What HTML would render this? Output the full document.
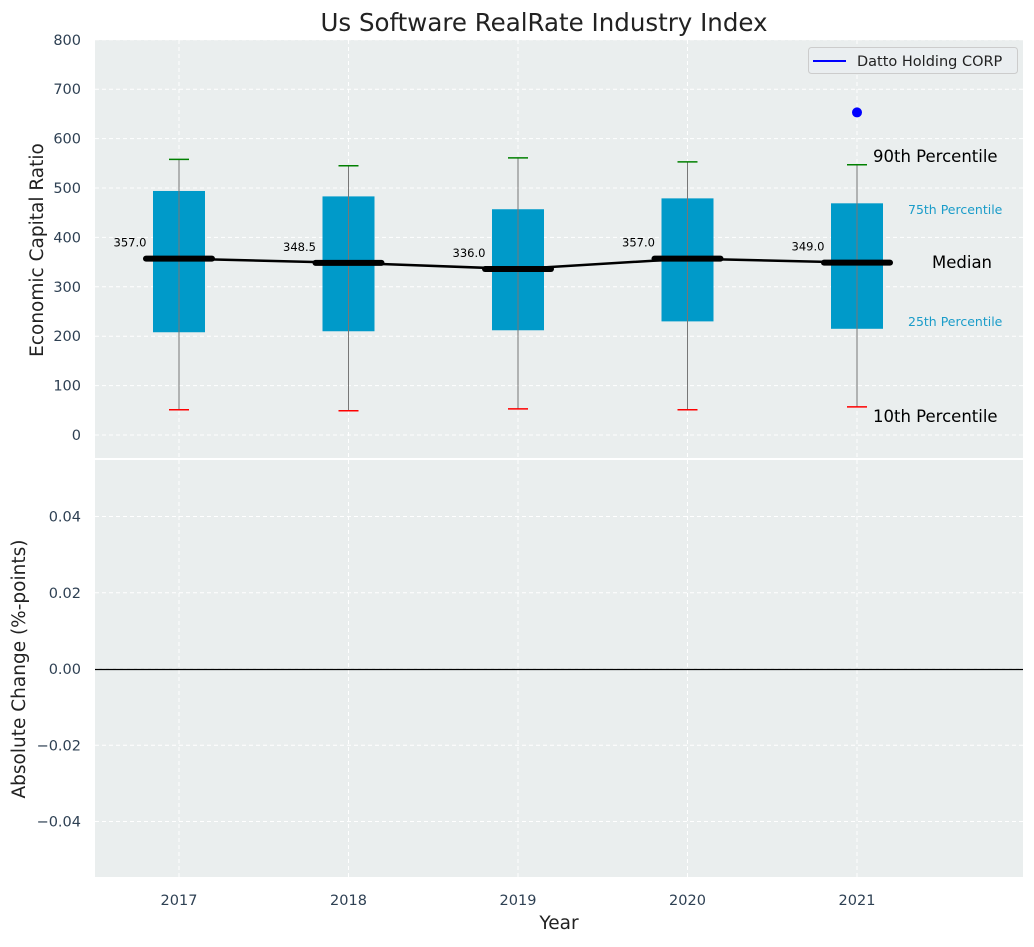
<!DOCTYPE html>
<html><head><meta charset="utf-8"><style>
body{margin:0;background:#fff;font-family:"Liberation Sans","DejaVu Sans",sans-serif}
svg text{font-family:"DejaVu Sans","Liberation Sans",sans-serif}
</style></head><body>
<svg id="c" width="1034" height="942" xmlns="http://www.w3.org/2000/svg"></svg>
<script>
const years=[2017,2018,2019,2020,2021];
const p10=[51,49,53,51,57];
const p25=[208,210,212,230,215];
const med=[357,348.5,336,357,349];
const p75=[494,483,457,479,469];
const p90=[558,545,561,553,547];
const dattoYear=[2021];
const dattoVal=[653];
const topTicks=[0,100,200,300,400,500,600,700,800];
const botTicks=[-0.04,-0.02,0,0.02,0.04];

const NS="http://www.w3.org/2000/svg";
const svg=document.getElementById('c');
function el(t,a,txt){const e=document.createElementNS(NS,t);for(const k in a)e.setAttribute(k,a[k]);if(txt!==undefined)e.textContent=txt;svg.appendChild(e);return e;}
const L=95,R=1023;
const xs=y=>179+(y-2017)*169.5;
const yT=v=>435-v*0.494;
const yB=v=>669-v*3812.5;

let e;
e=el('rect',{x:L,y:40,width:R-L,height:418,fill:'#eaeeee'});

e=el('rect',{x:L,y:460,width:R-L,height:417,fill:'#eaeeee'});


topTicks.forEach(v=>{
 e=el('line',{x1:L,x2:R,y1:yT(v),y2:yT(v),stroke:'#fff','stroke-dasharray':'4,3','stroke-width':1});
 
 e=el('text',{x:81,y:yT(v)+5,'text-anchor':'end','font-size':14.5,fill:'#2e4053'},v);
 
});
botTicks.forEach(v=>{
 e=el('line',{x1:L,x2:R,y1:yB(v),y2:yB(v),stroke:'#fff','stroke-dasharray':'4,3','stroke-width':1});
 
 e=el('text',{x:81,y:yB(v)+5,'text-anchor':'end','font-size':14.5,fill:'#2e4053'},(v<0?'\u2212':'')+Math.abs(v).toFixed(2));
 
});
years.forEach(y=>{
 [[40,458],[460,877]].forEach(r=>{
  e=el('line',{x1:xs(y),x2:xs(y),y1:r[0],y2:r[1],stroke:'#fff','stroke-dasharray':'4,3'});
  
 });
 e=el('text',{x:xs(y),y:905,'text-anchor':'middle','font-size':14.5,fill:'#2e4053'},y);
 
});
e=el('line',{x1:L,x2:R,y1:yB(0)+0.5,y2:yB(0)+0.5,stroke:'#000','stroke-width':1.2});


years.forEach((y,i)=>{
 const x=xs(y);
 e=el('rect',{x:x-26,y:yT(p75[i]),width:52,height:yT(p25[i])-yT(p75[i]),fill:'#009ac9'});
 
 e=el('line',{x1:x,x2:x,y1:yT(p90[i]),y2:yT(p10[i]),stroke:'#777','stroke-width':1});
 
 e=el('line',{x1:x-10,x2:x+10,y1:yT(p90[i]),y2:yT(p90[i]),stroke:'green','stroke-width':1.5});
 
 e=el('line',{x1:x-10,x2:x+10,y1:yT(p10[i]),y2:yT(p10[i]),stroke:'red','stroke-width':1.5});
 
});
e=el('polyline',{points:years.map((y,i)=>xs(y)+','+yT(med[i])).join(' '),fill:'none',stroke:'#000','stroke-width':2.5});

years.forEach((y,i)=>{
 const x=xs(y);
 e=el('line',{x1:x-33,x2:x+33,y1:yT(med[i]),y2:yT(med[i]),stroke:'#000','stroke-width':6,'stroke-linecap':'round'});
 
 e=el('text',{x:x-49,y:yT(med[i])-12,'text-anchor':'middle','font-size':11.5,fill:'#000'},med[i].toFixed(1));
 
});
dattoYear.forEach((y,i)=>{
 e=el('circle',{cx:xs(y),cy:yT(dattoVal[i]),r:5,fill:'blue'});
 
});
const ann=[['90th Percentile',873,162,16.5,'#000'],['75th Percentile',908,214,12.5,'#1a9cc9'],['Median',932,268,16.5,'#000'],['25th Percentile',908,326,12.5,'#1a9cc9'],['10th Percentile',873,422,16.5,'#000']];
ann.forEach(a=>{e=el('text',{x:a[1],y:a[2],'font-size':a[3],fill:a[4]},a[0]);});

e=el('rect',{x:808.5,y:47.5,width:209,height:26,rx:3,fill:'#eaeef0',stroke:'#ccc'});

e=el('line',{x1:813,x2:846,y1:61,y2:61,stroke:'blue','stroke-width':2});

e=el('text',{x:857,y:66,'font-size':14.5,fill:'#222'},'Datto Holding CORP');


e=el('text',{x:544,y:31,'text-anchor':'middle','font-size':24.5,fill:'#222'},'Us Software RealRate Industry Index');

e=el('text',{x:0,y:0,'text-anchor':'middle','font-size':18.5,fill:'#222',transform:'translate(43,250) rotate(-90)'},'Economic Capital Ratio');

e=el('text',{x:0,y:0,'text-anchor':'middle','font-size':18.5,fill:'#222',transform:'translate(25,669) rotate(-90)'},'Absolute Change (%-points)');

e=el('text',{x:559,y:929,'text-anchor':'middle','font-size':18.5,fill:'#222'},'Year');

</script>
</body></html>
